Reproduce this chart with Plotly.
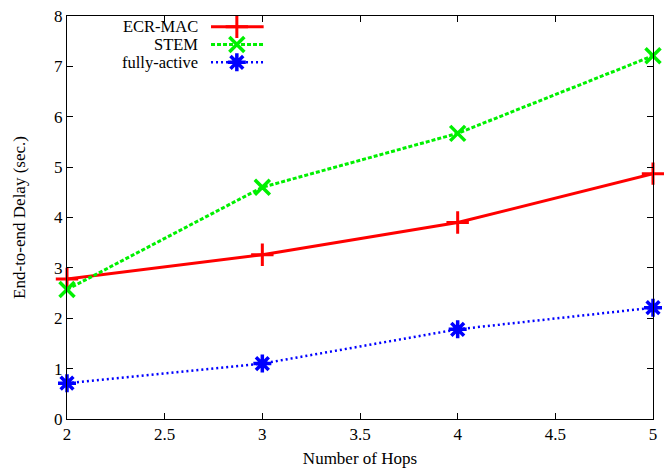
import plotly.graph_objects as go

hops = [2, 3, 4, 5]
ecr_mac = [2.78, 3.26, 3.90, 4.87]
stem = [2.57, 4.60, 5.67, 7.21]
fully_active = [0.71, 1.10, 1.78, 2.21]

series_names = ["ECR-MAC", "STEM", "fully-active"]
x_ticks = [2, 2.5, 3, 3.5, 4, 4.5, 5]
x_tick_labels = ["2", "2.5", "3", "3.5", "4", "4.5", "5"]
y_ticks = [0, 1, 2, 3, 4, 5, 6, 7, 8]

FONT = "Liberation Serif"
styles = [
    dict(color="#ff0000", width=3, dash="solid", symbol="cross-thin-open", msize=16, mwidth=3),
    dict(color="#00f000", width=3, dash="4px,2px", symbol="x-thin-open", msize=15, mwidth=3.5),
    dict(color="#0000ff", width=2.5, dash="2px,3px", symbol="asterisk-open", msize=15, mwidth=3.5),
]

fig = go.Figure()
for name, ys, st in zip(series_names, [ecr_mac, stem, fully_active], styles):
    fig.add_trace(go.Scatter(
        x=hops, y=ys, mode="lines+markers", name=name, showlegend=False,
        line=dict(color=st["color"], width=st["width"], dash=st["dash"]),
        marker=dict(symbol=st["symbol"], size=st["msize"], color=st["color"],
                    line=dict(color=st["color"], width=st["mwidth"])),
        cliponaxis=False,
    ))

# manual gnuplot-style legend (text on left, sample on right), pixel-like axes
legend_rows = [21, 39, 57]
for name, st, py in zip(series_names, styles, legend_rows):
    fig.add_trace(go.Scatter(
        x=[212 - 67, 265 - 67], y=[py - 10, py - 10], mode="lines", xaxis="x2", yaxis="y2",
        showlegend=False, hoverinfo="skip",
        line=dict(color=st["color"], width=st["width"], dash=st["dash"]),
    ))
    fig.add_trace(go.Scatter(
        x=[238 - 67], y=[py - 10], mode="markers", xaxis="x2", yaxis="y2",
        showlegend=False, hoverinfo="skip",
        marker=dict(symbol=st["symbol"], size=st["msize"], color=st["color"],
                    line=dict(color=st["color"], width=st["mwidth"])),
    ))
    fig.add_annotation(x=201 - 67, y=py - 10, xref="x2", yref="y2", text=name,
                       showarrow=False, xanchor="right", yanchor="middle",
                       font=dict(family=FONT, size=16.5, color="black"))

fig.update_layout(
    width=664, height=475,
    margin=dict(l=67, r=7, t=10, b=56),
    paper_bgcolor="white", plot_bgcolor="white",
    font=dict(family=FONT, size=17, color="black"),
    xaxis=dict(range=[2, 5], tickvals=x_ticks, ticktext=x_tick_labels,
               ticks="inside", ticklen=6, tickcolor="black", tickwidth=1,
               showline=True, linecolor="black", linewidth=1, mirror="ticks",
               showgrid=False, zeroline=False,
               title=dict(text="Number of Hops", font=dict(family=FONT, size=17), standoff=8)),
    yaxis=dict(range=[0, 8], tickvals=y_ticks,
               ticks="inside", ticklen=6, tickcolor="black", tickwidth=1,
               showline=True, linecolor="black", linewidth=1, mirror="ticks",
               showgrid=False, zeroline=False,
               title=dict(text="End-to-end Delay (sec.)", font=dict(family=FONT, size=17), standoff=24)),
    xaxis2=dict(range=[0, 590], overlaying="x", visible=False, domain=[0, 1]),
    yaxis2=dict(range=[409, 0], overlaying="y", visible=False),
)

fig.write_html("out.html")
